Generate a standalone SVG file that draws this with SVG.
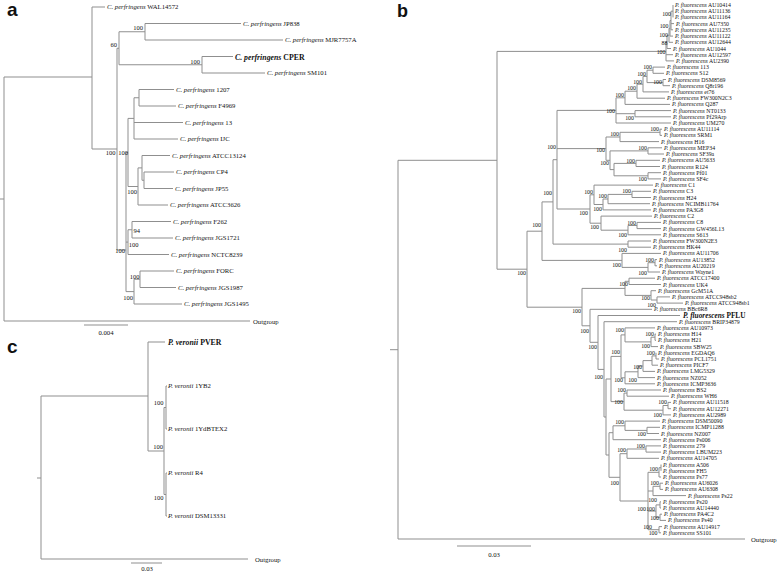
<svg xmlns="http://www.w3.org/2000/svg" width="778" height="572" viewBox="0 0 778 572">
<style>
.e{fill:none;stroke:#8f8f8f;stroke-width:1}
text{font-family:"Liberation Serif","Times New Roman",serif;fill:#111}
.ta{font-size:6.7px}
.tb{font-size:5.8px}
.sa{font-size:6.5px;text-anchor:end}
.sb{font-size:5.9px;text-anchor:end}
.i{font-style:italic}
.bd{font-weight:bold}
.pl{font-family:"Liberation Sans",Arial,sans-serif;font-weight:bold;font-size:19px}
.mid{text-anchor:middle}
</style>
<rect width="778" height="572" fill="#ffffff"/>
<g id="panel-labels">
<text class="pl" x="7" y="16">a</text>
<text class="pl" x="397" y="16.5" style="font-size:18px">b</text>
<text class="pl" x="7" y="353">c</text>
</g>
<g id="connectors">
<path class="e" d="M4 77V321M0 199H4M4 77H92M4 321H250M92 7V149M92 7H105M92 149H117M117 48.25V250M117 48.25H119M117 250H126M119 31.75V64.75M119 31.75H145M119 64.75H202M145 23.5V40M145 23.5H241M145 40H283M202 56.5V73M202 56.5H233M202 73H265M126 152.5V291.6M126 152.5H128M126 242.1H128M126 291.6H134M128 118.4V186.5M128 118.4H134M128 186.5H138M134 97.75V139M134 97.75H139M134 122.5H183M134 139H178M139 89.5V106M139 89.5H174M139 106H176M138 167.9V205M138 167.9H142M138 205H168M142 155.5V180.25M142 155.5H170M142 180.25H144M144 172V188.5M144 172H174M144 188.5H173M128 229.75V254.5M128 229.75H132M128 254.5H169M132 221.5V238M132 221.5H171M132 238H173M134 279.25V304M134 279.25H140M134 304H182M140 271V287.5M140 271H174M140 287.5H176M84 325H128"/>
<path class="e" d="M41 396V559M37 478H41M41 396H148M41 559H248M148 342V451M148 342H165M148 451H164M164 407.5V494.5M164 407.5H166M164 494.5H166M166 386V429M166 386H167M166 429H167M166 473V516M166 473H167M166 516H167M131 563H162"/>
<path class="e" d="M398 160.3V539M390 349.7H398M398 160.3H497M398 539H745M497 51.4V269.2M497 51.4H666M497 269.2H527M666 41.9V60.9M666 41.9H667M666 54.7H673M666 60.9H674M667 35.3V48.5M667 35.3H669M667 48.5H671M669 28.3V42.3M669 28.3H670M669 42.3H673M670 20.5V36.1M670 20.5H671M670 36.1H673M671 11.2V29.8M671 11.2H673M671 23.6H674M671 29.8H673M673 5V17.4M527 231.2V307.2M527 231.2H542M527 307.2H582M542 201.9V260.4M542 201.9H553M542 260.4H622M553 159.7V244.1M553 159.7H557M553 244.1H628M557 110.4V209M557 110.4H616M557 148.6H606M557 209H590M616 97.8V123M616 97.8H625M616 113.7H635M616 123H671M625 91.2V104.4M625 91.2H637M625 104.4H670M637 84.2V98.2M637 84.2H643M637 98.2H665M643 76.4V91.9M643 76.4H647M643 91.9H669M647 70.2V82.6M647 70.2H653M647 82.6H663M653 67.1V73.3M653 67.1H665M653 73.3H664M663 79.5V85.7M663 79.5H666M663 85.7H670M635 110.6V116.8M635 110.6H671M635 116.8H671M606 137V160.3M606 137H620M606 160.3H610M620 132.3V141.6M620 132.3H660M620 141.6H659M660 129.2V135.4M660 129.2H662M660 135.4H662M610 150.9V169.6M610 150.9H648M610 169.6H614M648 147.8V154M648 147.8H662M648 154H664M614 163.4V175.8M614 163.4H636M614 175.8H648M636 160.3V166.5M636 160.3H660M636 166.5H660M648 172.7V178.9M648 172.7H661M648 178.9H661M590 194.8V223.2M590 194.8H594M590 223.2H601M594 185.1V204.5M594 185.1H653M594 204.5H603M603 199V209.9M603 199H608M603 209.9H651M608 194.4V203.7M608 194.4H632M608 203.7H650M632 191.3V197.5M632 191.3H651M632 197.5H651M601 216.1V230.2M601 216.1H652M601 230.2H628M628 225.5V234.8M628 225.5H637M628 234.8H661M637 222.4V228.6M637 222.4H661M637 228.6H661M628 241V247.2M628 241H651M628 247.2H651M622 253.4V267.4M622 253.4H661M622 267.4H648M648 262.7V272M648 262.7H655M648 272H660M655 259.6V265.8M655 259.6H657M655 265.8H657M582 288.4V325.8M582 288.4H625M582 325.8H590M625 281.3V295.4M625 281.3H629M625 295.4H651M629 278.2V284.5M629 278.2H655M629 284.5H661M651 290.7V300M651 290.7H656M651 300H657M657 296.9V303.1M657 296.9H670M657 303.1H683M590 309.3V342.3M590 309.3H652M590 342.3H598M598 315.5V369.4M598 315.5H680M598 369.4H604M604 321.7V417M604 321.7H677M604 417H606M606 379V455M606 379H611M606 455H609M611 356.4V401.6M611 356.4H621M611 401.6H624M621 334.9V377.8M621 334.9H625M621 377.8H625M625 327.9V341.9M625 327.9H655M625 341.9H651M651 337.2V346.6M651 337.2H655M651 346.6H658M655 334.1V340.3M655 334.1H656M655 340.3H656M625 371.8V383.8M625 371.8H638M625 383.8H655M638 366V377.6M638 366H643M638 377.6H655M643 360.6V371.4M643 360.6H652M643 371.4H655M652 355.9V365.2M652 355.9H656M652 365.2H658M656 352.8V359M656 359H659M624 393.1V410.2M624 393.1H627M624 410.2H663M627 390V396.2M627 390H661M627 396.2H669M663 405.5V414.9M663 405.5H668M663 414.9H671M668 402.4V408.7M668 402.4H671M668 408.7H671M609 432.7V477.3M609 432.7H613M609 477.3H620M613 425.8V439.7M613 425.8H625M613 439.7H661M625 421.1V430.4M625 421.1H660M625 430.4H647M647 427.3V433.5M647 427.3H660M647 433.5H659M620 453.7V501M620 453.7H627M620 501H648M627 449V458.3M627 449H646M627 458.3H659M646 445.9V452.1M646 445.9H661M646 452.1H661M648 472.3V529.7M648 472.3H659M648 491H653M648 511.1H656M648 529.7H659M659 467.7V477M659 467.7H661M659 477H661M661 464.5V470.8M653 486.3V495.6M653 486.3H660M653 495.6H686M660 483.2V489.4M660 483.2H663M660 489.4H663M656 504.9V517.3M656 504.9H660M656 517.3H660M660 501.8V508M660 501.8H661M660 508H661M660 514.2V520.4M660 514.2H662M660 520.4H666M659 526.6V532.8M659 526.6H662M659 532.8H661M457 546H531"/>
</g>
<g id="tree-a">
<g id="a-WAL14572"><text class="ta" x="107" y="9.3"><tspan class="i">C. perfringens</tspan> WAL14572</text></g>
<g id="a-JP838"><text class="ta" x="243" y="25.8"><tspan class="i">C. perfringens</tspan> JP838</text></g>
<g id="a-MJR7757A"><text class="ta" x="285" y="42.3"><tspan class="i">C. perfringens</tspan> MJR7757A</text></g>
<g id="a-CPER"><text class="ta bd" x="235" y="59.5" style="font-size:7.8px"><tspan class="i">C. perfringens</tspan> CPER</text></g>
<g id="a-SM101"><text class="ta" x="267" y="75.3"><tspan class="i">C. perfringens</tspan> SM101</text></g>
<g id="a-1207"><text class="ta" x="176" y="91.8"><tspan class="i">C. perfringens</tspan> 1207</text></g>
<g id="a-F4969"><text class="ta" x="178" y="108.3"><tspan class="i">C. perfringens</tspan> F4969</text></g>
<g id="a-13"><text class="ta" x="185" y="124.8"><tspan class="i">C. perfringens</tspan> 13</text></g>
<g id="a-IJC"><text class="ta" x="180" y="141.3"><tspan class="i">C. perfringens</tspan> IJC</text></g>
<g id="a-ATCC13124"><text class="ta" x="172" y="157.8"><tspan class="i">C. perfringens</tspan> ATCC13124</text></g>
<g id="a-CP4"><text class="ta" x="176" y="174.3"><tspan class="i">C. perfringens</tspan> CP4</text></g>
<g id="a-JP55"><text class="ta" x="175" y="190.8"><tspan class="i">C. perfringens</tspan> JP55</text></g>
<g id="a-ATCC3626"><text class="ta" x="170" y="207.3"><tspan class="i">C. perfringens</tspan> ATCC3626</text></g>
<g id="a-F262"><text class="ta" x="173" y="223.8"><tspan class="i">C. perfringens</tspan> F262</text></g>
<g id="a-JGS1721"><text class="ta" x="175" y="240.3"><tspan class="i">C. perfringens</tspan> JGS1721</text></g>
<g id="a-NCTC8239"><text class="ta" x="171" y="256.8"><tspan class="i">C. perfringens</tspan> NCTC8239</text></g>
<g id="a-FORC"><text class="ta" x="176" y="273.3"><tspan class="i">C. perfringens</tspan> FORC</text></g>
<g id="a-JGS1987"><text class="ta" x="178" y="289.8"><tspan class="i">C. perfringens</tspan> JGS1987</text></g>
<g id="a-JGS1495"><text class="ta" x="184" y="306.3"><tspan class="i">C. perfringens</tspan> JGS1495</text></g>
<g id="a-Outgroup"><text class="ta" x="253" y="323.5">Outgroup</text></g>
<g id="a-scale"><text class="ta mid" x="106" y="334.5">0.004</text></g>
<g id="a-support">
<text class="sa" x="117" y="47">60</text>
<text class="sa" x="143" y="29.5">100</text>
<text class="sa" x="200" y="63.5">100</text>
<text class="sa" x="115.5" y="154.5">100</text>
<text class="sa" x="128" y="154.5">100</text>
<text class="sa" x="137" y="193.5">100</text>
<text class="sa" x="140" y="232.5">94</text>
<text class="sa" x="138.5" y="247">100</text>
<text class="sa" x="125" y="252.5">100</text>
<text class="sa" x="139.5" y="278.5">100</text>
<text class="sa" x="133" y="299.5">100</text>
</g>
</g>
<g id="tree-c">
<g id="c-PVER"><text class="ta bd" x="168" y="344.8" style="font-size:7.8px"><tspan class="i">P. veronii</tspan> PVER</text></g>
<g id="c-1YB2"><text class="ta" x="168" y="388.3"><tspan class="i">P. veronii</tspan> 1YB2</text></g>
<g id="c-1YdBTEX2"><text class="ta" x="168" y="431.3"><tspan class="i">P. veronii</tspan> 1YdBTEX2</text></g>
<g id="c-R4"><text class="ta" x="168" y="475.3"><tspan class="i">P. veronii</tspan> R4</text></g>
<g id="c-DSM13331"><text class="ta" x="168" y="518.3"><tspan class="i">P. veronii</tspan> DSM13331</text></g>
<g id="c-Outgroup"><text class="ta" x="255" y="561.5">Outgroup</text></g>
<g id="c-scale"><text class="ta mid" x="147" y="570.5">0.03</text></g>
<g id="c-support">
<text class="sa" x="163.5" y="404.5">100</text>
<text class="sa" x="163" y="448.5">100</text>
<text class="sa" x="163.5" y="499.5">100</text>
</g>
</g>
<g id="tree-b">
<g id="b-AU10414"><text class="tb" x="675" y="7"><tspan class="i">P. fluorescens</tspan> AU10414</text></g>
<g id="b-AU11136"><text class="tb" x="675" y="13.2"><tspan class="i">P. fluorescens</tspan> AU11136</text></g>
<g id="b-AU11164"><text class="tb" x="675" y="19.4"><tspan class="i">P. fluorescens</tspan> AU11164</text></g>
<g id="b-AU7350"><text class="tb" x="676" y="25.6"><tspan class="i">P. fluorescens</tspan> AU7350</text></g>
<g id="b-AU11235"><text class="tb" x="675" y="31.8"><tspan class="i">P. fluorescens</tspan> AU11235</text></g>
<g id="b-AU11122"><text class="tb" x="675" y="38.1"><tspan class="i">P. fluorescens</tspan> AU11122</text></g>
<g id="b-AU12644"><text class="tb" x="675" y="44.3"><tspan class="i">P. fluorescens</tspan> AU12644</text></g>
<g id="b-AU1044"><text class="tb" x="673" y="50.5"><tspan class="i">P. fluorescens</tspan> AU1044</text></g>
<g id="b-AU12597"><text class="tb" x="675" y="56.7"><tspan class="i">P. fluorescens</tspan> AU12597</text></g>
<g id="b-AU2390"><text class="tb" x="676" y="62.9"><tspan class="i">P. fluorescens</tspan> AU2390</text></g>
<g id="b-113"><text class="tb" x="667" y="69.1"><tspan class="i">P. fluorescens</tspan> 113</text></g>
<g id="b-S12"><text class="tb" x="666" y="75.3"><tspan class="i">P. fluorescens</tspan> S12</text></g>
<g id="b-DSM8569"><text class="tb" x="668" y="81.5"><tspan class="i">P. fluorescens</tspan> DSM8569</text></g>
<g id="b-Q8r196"><text class="tb" x="672" y="87.7"><tspan class="i">P. fluorescens</tspan> Q8r196</text></g>
<g id="b-et76"><text class="tb" x="671" y="93.9"><tspan class="i">P. fluorescens</tspan> et76</text></g>
<g id="b-FW300N2C3"><text class="tb" x="667" y="100.2"><tspan class="i">P. fluorescens</tspan> FW300N2C3</text></g>
<g id="b-Q287"><text class="tb" x="672" y="106.4"><tspan class="i">P. fluorescens</tspan> Q287</text></g>
<g id="b-NT0133"><text class="tb" x="673" y="112.6"><tspan class="i">P. fluorescens</tspan> NT0133</text></g>
<g id="b-Pf29Arp"><text class="tb" x="673" y="118.8"><tspan class="i">P. fluorescens</tspan> Pf29Arp</text></g>
<g id="b-UM270"><text class="tb" x="673" y="125"><tspan class="i">P. fluorescens</tspan> UM270</text></g>
<g id="b-AU11114"><text class="tb" x="664" y="131.2"><tspan class="i">P. fluorescens</tspan> AU11114</text></g>
<g id="b-SRM1"><text class="tb" x="664" y="137.4"><tspan class="i">P. fluorescens</tspan> SRM1</text></g>
<g id="b-H16"><text class="tb" x="661" y="143.6"><tspan class="i">P. fluorescens</tspan> H16</text></g>
<g id="b-MEP34"><text class="tb" x="664" y="149.8"><tspan class="i">P. fluorescens</tspan> MEP34</text></g>
<g id="b-SF39a"><text class="tb" x="666" y="156"><tspan class="i">P. fluorescens</tspan> SF39a</text></g>
<g id="b-AU5633"><text class="tb" x="662" y="162.3"><tspan class="i">P. fluorescens</tspan> AU5633</text></g>
<g id="b-R124"><text class="tb" x="662" y="168.5"><tspan class="i">P. fluorescens</tspan> R124</text></g>
<g id="b-Pf01"><text class="tb" x="663" y="174.7"><tspan class="i">P. fluorescens</tspan> Pf01</text></g>
<g id="b-SF4c"><text class="tb" x="663" y="180.9"><tspan class="i">P. fluorescens</tspan> SF4c</text></g>
<g id="b-C1"><text class="tb" x="655" y="187.1"><tspan class="i">P. fluorescens</tspan> C1</text></g>
<g id="b-C3"><text class="tb" x="653" y="193.3"><tspan class="i">P. fluorescens</tspan> C3</text></g>
<g id="b-H24"><text class="tb" x="653" y="199.5"><tspan class="i">P. fluorescens</tspan> H24</text></g>
<g id="b-NCIMB11764"><text class="tb" x="652" y="205.7"><tspan class="i">P. fluorescens</tspan> NCIMB11764</text></g>
<g id="b-PA3G8"><text class="tb" x="653" y="211.9"><tspan class="i">P. fluorescens</tspan> PA3G8</text></g>
<g id="b-C2"><text class="tb" x="654" y="218.1"><tspan class="i">P. fluorescens</tspan> C2</text></g>
<g id="b-C8"><text class="tb" x="663" y="224.4"><tspan class="i">P. fluorescens</tspan> C8</text></g>
<g id="b-GW456L13"><text class="tb" x="663" y="230.6"><tspan class="i">P. fluorescens</tspan> GW456L13</text></g>
<g id="b-S613"><text class="tb" x="663" y="236.8"><tspan class="i">P. fluorescens</tspan> S613</text></g>
<g id="b-FW300N2E3"><text class="tb" x="653" y="243"><tspan class="i">P. fluorescens</tspan> FW300N2E3</text></g>
<g id="b-HK44"><text class="tb" x="653" y="249.2"><tspan class="i">P. fluorescens</tspan> HK44</text></g>
<g id="b-AU11706"><text class="tb" x="663" y="255.4"><tspan class="i">P. fluorescens</tspan> AU11706</text></g>
<g id="b-AU13852"><text class="tb" x="659" y="261.6"><tspan class="i">P. fluorescens</tspan> AU13852</text></g>
<g id="b-AU20219"><text class="tb" x="659" y="267.8"><tspan class="i">P. fluorescens</tspan> AU20219</text></g>
<g id="b-Wayne1"><text class="tb" x="662" y="274"><tspan class="i">P. fluorescens</tspan> Wayne1</text></g>
<g id="b-ATCC17400"><text class="tb" x="657" y="280.2"><tspan class="i">P. fluorescens</tspan> ATCC17400</text></g>
<g id="b-UK4"><text class="tb" x="663" y="286.5"><tspan class="i">P. fluorescens</tspan> UK4</text></g>
<g id="b-GcM51A"><text class="tb" x="658" y="292.7"><tspan class="i">P. fluorescens</tspan> GcM51A</text></g>
<g id="b-ATCC948sb2"><text class="tb" x="672" y="298.9"><tspan class="i">P. fluorescens</tspan> ATCC948sb2</text></g>
<g id="b-ATCC948sb1"><text class="tb" x="685" y="305.1"><tspan class="i">P. fluorescens</tspan> ATCC948sb1</text></g>
<g id="b-BBc6R8"><text class="tb" x="654" y="311.3"><tspan class="i">P. fluorescens</tspan> BBc6R8</text></g>
<g id="b-PFLU"><text class="tb bd" x="683" y="318" style="font-size:7.3px"><tspan class="i">P. fluorescens</tspan> PFLU</text></g>
<g id="b-BRIP34879"><text class="tb" x="679" y="323.7"><tspan class="i">P. fluorescens</tspan> BRIP34879</text></g>
<g id="b-AU10973"><text class="tb" x="657" y="329.9"><tspan class="i">P. fluorescens</tspan> AU10973</text></g>
<g id="b-H14"><text class="tb" x="658" y="336.1"><tspan class="i">P. fluorescens</tspan> H14</text></g>
<g id="b-H21"><text class="tb" x="658" y="342.3"><tspan class="i">P. fluorescens</tspan> H21</text></g>
<g id="b-SBW25"><text class="tb" x="660" y="348.6"><tspan class="i">P. fluorescens</tspan> SBW25</text></g>
<g id="b-EGDAQ6"><text class="tb" x="658" y="354.8"><tspan class="i">P. fluorescens</tspan> EGDAQ6</text></g>
<g id="b-PCL1751"><text class="tb" x="661" y="361"><tspan class="i">P. fluorescens</tspan> PCL1751</text></g>
<g id="b-PICF7"><text class="tb" x="660" y="367.2"><tspan class="i">P. fluorescens</tspan> PICF7</text></g>
<g id="b-LMG5329"><text class="tb" x="657" y="373.4"><tspan class="i">P. fluorescens</tspan> LMG5329</text></g>
<g id="b-NZ052"><text class="tb" x="657" y="379.6"><tspan class="i">P. fluorescens</tspan> NZ052</text></g>
<g id="b-ICMP3636"><text class="tb" x="657" y="385.8"><tspan class="i">P. fluorescens</tspan> ICMP3636</text></g>
<g id="b-BS2"><text class="tb" x="663" y="392"><tspan class="i">P. fluorescens</tspan> BS2</text></g>
<g id="b-WH6"><text class="tb" x="671" y="398.2"><tspan class="i">P. fluorescens</tspan> WH6</text></g>
<g id="b-AU11518"><text class="tb" x="673" y="404.4"><tspan class="i">P. fluorescens</tspan> AU11518</text></g>
<g id="b-AU12271"><text class="tb" x="673" y="410.7"><tspan class="i">P. fluorescens</tspan> AU12271</text></g>
<g id="b-AU2989"><text class="tb" x="673" y="416.9"><tspan class="i">P. fluorescens</tspan> AU2989</text></g>
<g id="b-DSM50090"><text class="tb" x="662" y="423.1"><tspan class="i">P. fluorescens</tspan> DSM50090</text></g>
<g id="b-ICMP11288"><text class="tb" x="662" y="429.3"><tspan class="i">P. fluorescens</tspan> ICMP11288</text></g>
<g id="b-NZ007"><text class="tb" x="661" y="435.5"><tspan class="i">P. fluorescens</tspan> NZ007</text></g>
<g id="b-Ps006"><text class="tb" x="663" y="441.7"><tspan class="i">P. fluorescens</tspan> Ps006</text></g>
<g id="b-279"><text class="tb" x="663" y="447.9"><tspan class="i">P. fluorescens</tspan> 279</text></g>
<g id="b-LBUM223"><text class="tb" x="663" y="454.1"><tspan class="i">P. fluorescens</tspan> LBUM223</text></g>
<g id="b-AU14705"><text class="tb" x="661" y="460.3"><tspan class="i">P. fluorescens</tspan> AU14705</text></g>
<g id="b-A506"><text class="tb" x="663" y="466.5"><tspan class="i">P. fluorescens</tspan> A506</text></g>
<g id="b-FH5"><text class="tb" x="663" y="472.8"><tspan class="i">P. fluorescens</tspan> FH5</text></g>
<g id="b-Ps77"><text class="tb" x="663" y="479"><tspan class="i">P. fluorescens</tspan> Ps77</text></g>
<g id="b-AU6026"><text class="tb" x="665" y="485.2"><tspan class="i">P. fluorescens</tspan> AU6026</text></g>
<g id="b-AU6308"><text class="tb" x="665" y="491.4"><tspan class="i">P. fluorescens</tspan> AU6308</text></g>
<g id="b-Ps22"><text class="tb" x="688" y="497.6"><tspan class="i">P. fluorescens</tspan> Ps22</text></g>
<g id="b-Ps20"><text class="tb" x="663" y="503.8"><tspan class="i">P. fluorescens</tspan> Ps20</text></g>
<g id="b-AU14440"><text class="tb" x="663" y="510"><tspan class="i">P. fluorescens</tspan> AU14440</text></g>
<g id="b-PA4C2"><text class="tb" x="664" y="516.2"><tspan class="i">P. fluorescens</tspan> PA4C2</text></g>
<g id="b-Ps40"><text class="tb" x="668" y="522.4"><tspan class="i">P. fluorescens</tspan> Ps40</text></g>
<g id="b-AU14917"><text class="tb" x="664" y="528.6"><tspan class="i">P. fluorescens</tspan> AU14917</text></g>
<g id="b-SS101"><text class="tb" x="663" y="534.8"><tspan class="i">P. fluorescens</tspan> SS101</text></g>
<g id="b-Outgroup"><text class="ta" x="751" y="541.5">Outgroup</text></g>
<g id="b-scale"><text class="ta mid" x="494" y="556.5">0.03</text></g>
<g id="b-support">
<text class="sb" x="671" y="16">100</text>
<text class="sb" x="668.5" y="28">100</text>
<text class="sb" x="668" y="37">100</text>
<text class="sb" x="667.5" y="45">88</text>
<text class="sb" x="665.5" y="53.5">100</text>
<text class="sb" x="652" y="68.5">100</text>
<text class="sb" x="646" y="75.5">100</text>
<text class="sb" x="662" y="84">100</text>
<text class="sb" x="642" y="83.5">100</text>
<text class="sb" x="636" y="89.5">100</text>
<text class="sb" x="624" y="97">100</text>
<text class="sb" x="615" y="113">100</text>
<text class="sb" x="634" y="120">100</text>
<text class="sb" x="659" y="131">100</text>
<text class="sb" x="619" y="135.5">100</text>
<text class="sb" x="647" y="149.5">100</text>
<text class="sb" x="556" y="149">100</text>
<text class="sb" x="605" y="152">100</text>
<text class="sb" x="635" y="162.5">100</text>
<text class="sb" x="609" y="165">100</text>
<text class="sb" x="647" y="181">100</text>
<text class="sb" x="593" y="194">100</text>
<text class="sb" x="631" y="193">100</text>
<text class="sb" x="552" y="195">100</text>
<text class="sb" x="607" y="197.5">100</text>
<text class="sb" x="602" y="211">100</text>
<text class="sb" x="588" y="215">100</text>
<text class="sb" x="636" y="224.5">100</text>
<text class="sb" x="541" y="227">100</text>
<text class="sb" x="599" y="229">100</text>
<text class="sb" x="627" y="237">100</text>
<text class="sb" x="627" y="251.5">100</text>
<text class="sb" x="654" y="261.5">100</text>
<text class="sb" x="621" y="267">100</text>
<text class="sb" x="647" y="275">100</text>
<text class="sb" x="526" y="275">100</text>
<text class="sb" x="628" y="285.5">100</text>
<text class="sb" x="650" y="299.5">100</text>
<text class="sb" x="656" y="306.5">100</text>
<text class="sb" x="581" y="313">100</text>
<text class="sb" x="624" y="332">100</text>
<text class="sb" x="589" y="333">100</text>
<text class="sb" x="654" y="336">100</text>
<text class="sb" x="650" y="348">100</text>
<text class="sb" x="597" y="349">100</text>
<text class="sb" x="620" y="354">100</text>
<text class="sb" x="655" y="355">100</text>
<text class="sb" x="642" y="369">100</text>
<text class="sb" x="603" y="379">100</text>
<text class="sb" x="637" y="382">100</text>
<text class="sb" x="623" y="382">100</text>
<text class="sb" x="626" y="392">100</text>
<text class="sb" x="623" y="404">100</text>
<text class="sb" x="667" y="403.5">100</text>
<text class="sb" x="662" y="417">100</text>
<text class="sb" x="624" y="424">100</text>
<text class="sb" x="646" y="436">100</text>
<text class="sb" x="645" y="447.5">100</text>
<text class="sb" x="626" y="452">100</text>
<text class="sb" x="658" y="471">100</text>
<text class="sb" x="619" y="485">100</text>
<text class="sb" x="659" y="485">100</text>
<text class="sb" x="657" y="501.5">100</text>
<text class="sb" x="646" y="510.5">100</text>
<text class="sb" x="655" y="510.5">100</text>
<text class="sb" x="659" y="520">100</text>
<text class="sb" x="652" y="529">100</text>
<text class="sb" x="657.5" y="535">100</text>
</g>
</g>
</svg>
